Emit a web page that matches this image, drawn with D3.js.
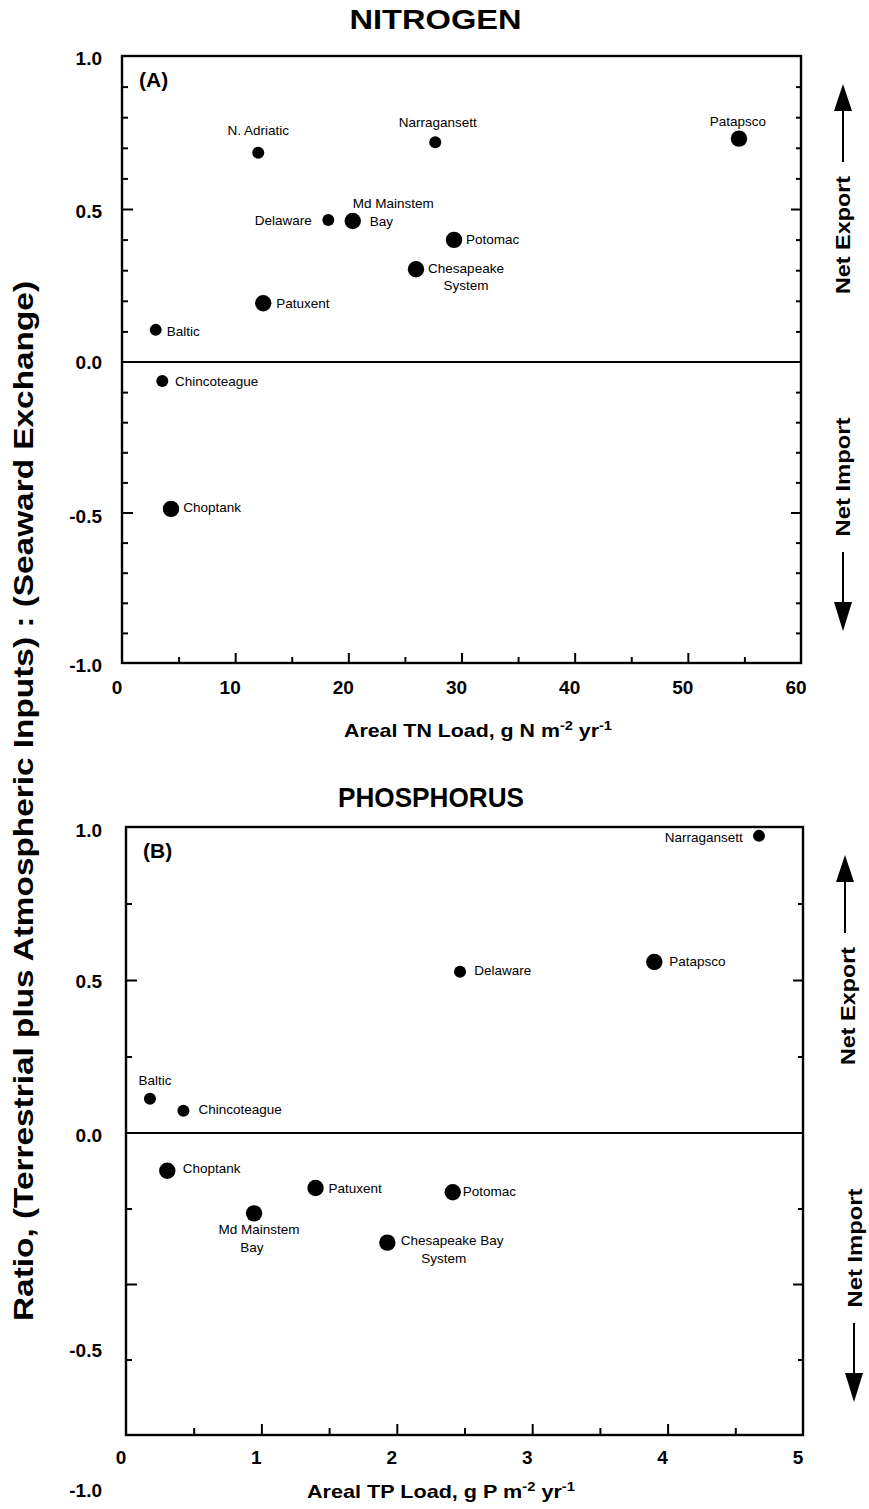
<!DOCTYPE html>
<html>
<head>
<meta charset="utf-8">
<script src="https://cdn.jsdelivr.net/npm/d3@7"></script>
<style>
  html, body { margin: 0; padding: 0; background: #fff; }
  svg { display: block; }
  text { font-family: "Liberation Sans", Arial, Helvetica, sans-serif; fill: #000; }
</style>
</head>
<body>
<svg id="chart" width="869" height="1509"></svg>
<script>
// ---------------- DATA ----------------
// Panel A: Nitrogen
const nSites = ["N. Adriatic", "Delaware", "Md Mainstem Bay", "Patuxent", "Baltic",
                "Narragansett", "Patapsco", "Potomac", "Chesapeake System",
                "Chincoteague", "Choptank"];
const nLoad  = [12.04, 18.23, 20.39, 12.48, 2.98, 27.68, 54.52, 29.34, 25.98, 3.56, 4.33];
const nRatio = [0.684, 0.464, 0.461, 0.192, 0.105, 0.718, 0.730, 0.399, 0.303, -0.063, -0.488];

// Panel B: Phosphorus
const pSites = ["Baltic", "Chincoteague", "Narragansett", "Delaware", "Patapsco",
                "Choptank", "Patuxent", "Md Mainstem Bay", "Potomac", "Chesapeake Bay System"];
const pLoad  = [0.177, 0.424, 4.675, 2.467, 3.902, 0.305, 1.40, 0.946, 2.413, 1.93];
const pRatio = [0.112, 0.073, 0.971, 0.527, 0.559, -0.125, -0.182, -0.266, -0.196, -0.363];

// Chesapeake Bay systems (drawn with the larger symbol)
const chesapeakeGroup = ["Md Mainstem Bay", "Patuxent", "Patapsco", "Potomac",
                         "Chesapeake System", "Chesapeake Bay System", "Choptank"];

// Tick values / labels
const xTicksA = [0, 10, 20, 30, 40, 50, 60];
const xMinorA = [5, 15, 25, 35, 45, 55];
const yMajorA = [-0.5, 0.5];
const yMinorA = [-0.9, -0.8, -0.7, -0.6, -0.4, -0.3, -0.2, -0.1, 0.1, 0.2, 0.3, 0.4, 0.6, 0.7, 0.8, 0.9];
const yLabelsA = ["1.0", "0.5", "0.0", "-0.5", "-1.0"];

const xTicksB = [0, 1, 2, 3, 4, 5];
const xMinorB = [0.5, 1.5, 2.5, 3.5, 4.5];
const yMajorB = [-0.5, 0.5];
const yMinorB = [-0.75, -0.25, 0.25, 0.75];
const yLabelsB = ["1.0", "0.5", "0.0", "-0.5", "-1.0"];

// ---------------- LAYOUT (label placement, not data) ----------------
const labelLayoutA = {
  "N. Adriatic":       [{t: "N. Adriatic", a: "middle", dx: 0, dy: -17.5}],
  "Delaware":          [{t: "Delaware", a: "end", dx: -16.5, dy: 5}],
  "Md Mainstem Bay":   [{t: "Md Mainstem", a: "start", dx: 0, dy: -13}, {t: "Bay", a: "start", dx: 17, dy: 5.5}],
  "Patuxent":          [{t: "Patuxent", a: "start", dx: 13, dy: 4.7}],
  "Baltic":            [{t: "Baltic", a: "start", dx: 11, dy: 6}],
  "Narragansett":      [{t: "Narragansett", a: "middle", dx: 2.5, dy: -15.3}],
  "Patapsco":          [{t: "Patapsco", a: "middle", dx: -1, dy: -13}],
  "Potomac":           [{t: "Potomac", a: "start", dx: 12, dy: 4}],
  "Chesapeake System": [{t: "Chesapeake", a: "middle", dx: 50, dy: 3.7}, {t: "System", a: "middle", dx: 50, dy: 20.7}],
  "Chincoteague":      [{t: "Chincoteague", a: "start", dx: 12.7, dy: 5}],
  "Choptank":          [{t: "Choptank", a: "start", dx: 12.3, dy: 2.7}]
};
const labelLayoutB = {
  "Baltic":                [{t: "Baltic", a: "middle", dx: 5, dy: -13.7}],
  "Chincoteague":          [{t: "Chincoteague", a: "start", dx: 15, dy: 3.3}],
  "Narragansett":          [{t: "Narragansett", a: "end", dx: -16.3, dy: 5.7}],
  "Delaware":              [{t: "Delaware", a: "start", dx: 14.3, dy: 3.7}],
  "Patapsco":              [{t: "Patapsco", a: "start", dx: 15, dy: 4}],
  "Choptank":              [{t: "Choptank", a: "start", dx: 15.4, dy: 2.6}],
  "Patuxent":              [{t: "Patuxent", a: "start", dx: 13, dy: 4.7}],
  "Md Mainstem Bay":       [{t: "Md Mainstem", a: "middle", dx: 5, dy: 20.7}, {t: "Bay", a: "middle", dx: -2.3, dy: 38.4}],
  "Potomac":               [{t: "Potomac", a: "start", dx: 10, dy: 3.7}],
  "Chesapeake Bay System": [{t: "Chesapeake Bay", a: "start", dx: 13.4, dy: 2.3}, {t: "System", a: "middle", dx: 56.4, dy: 20}]
};

const svg = d3.select("#chart");
const sizeScale = d3.scaleOrdinal().domain(["chesapeake", "other"]).range([8.2, 6]);
const group = name => chesapeakeGroup.includes(name) ? "chesapeake" : "other";

function drawPanel(cfg) {
  const g = svg.append("g");
  const {x, y} = cfg;
  const [x0, x1] = x.range();
  const yTop = y(1), yBot = y(-1);

  // ticks (inward)
  const tickStyle = sel => {
    sel.select(".domain").remove();
    sel.selectAll(".tick text").remove();
    sel.selectAll(".tick line").attr("stroke", "#000").attr("stroke-width", 2);
  };
  g.append("g").attr("transform", `translate(${x0},0)`)
    .call(d3.axisLeft(y).tickValues(cfg.yMinor).tickSize(-cfg.yMinorLen)).call(tickStyle);
  g.append("g").attr("transform", `translate(${x0},0)`)
    .call(d3.axisLeft(y).tickValues(cfg.yMajor).tickSize(-cfg.yMajorLen)).call(tickStyle);
  g.append("g").attr("transform", `translate(${x1},0)`)
    .call(d3.axisRight(y).tickValues(cfg.yMinor).tickSize(-cfg.yMinorLen + 1)).call(tickStyle);
  g.append("g").attr("transform", `translate(${x1},0)`)
    .call(d3.axisRight(y).tickValues(cfg.yMajor).tickSize(-cfg.yMajorLen + 1)).call(tickStyle);
  g.append("g").attr("transform", `translate(0,${yBot})`)
    .call(d3.axisBottom(x).tickValues(cfg.xMinor).tickSize(-cfg.xMinorLen)).call(tickStyle);
  g.append("g").attr("transform", `translate(0,${yBot})`)
    .call(d3.axisBottom(x).tickValues(cfg.xTicks.slice(1, -1)).tickSize(-cfg.xMajorLen)).call(tickStyle);

  // frame
  g.append("rect")
    .attr("x", x0).attr("y", yTop)
    .attr("width", x1 - x0).attr("height", yBot - yTop)
    .attr("fill", "none").attr("stroke", "#000").attr("stroke-width", 2.4);
  // zero line
  g.append("line")
    .attr("x1", x0).attr("x2", x1).attr("y1", y(0)).attr("y2", y(0))
    .attr("stroke", "#000").attr("stroke-width", 2.2);

  // x tick labels
  g.selectAll(".xl").data(cfg.xTicks).join("text")
    .attr("x", d => x(d) - 5).attr("y", cfg.xLabelY)
    .attr("text-anchor", "middle").attr("dominant-baseline", "central")
    .attr("font-size", 19).attr("font-weight", "bold")
    .text(d => d);
  // y tick labels
  g.selectAll(".yl").data(cfg.yLabels).join("text")
    .attr("x", 102).attr("y", d => cfg.yLabelScale(+d))
    .attr("text-anchor", "end").attr("dominant-baseline", "central")
    .attr("font-size", 19).attr("font-weight", "bold")
    .text(d => d);

  // panel letter
  g.append("text").attr("x", x0 + 17).attr("y", yTop + 31)
    .attr("font-size", 21).attr("font-weight", "bold").text(cfg.letter);

  // title
  g.append("text").attr("x", cfg.titleX).attr("y", cfg.titleY)
    .attr("text-anchor", "middle").attr("font-size", 28).attr("font-weight", "bold")
    .attr("textLength", cfg.titleLen).attr("lengthAdjust", "spacingAndGlyphs")
    .text(cfg.title);

  // x axis title with superscripts
  const xt = g.append("text").attr("x", cfg.xTitleX).attr("y", cfg.xTitleY)
    .attr("text-anchor", "middle").attr("font-size", 19).attr("font-weight", "bold")
    .attr("textLength", 268).attr("lengthAdjust", "spacingAndGlyphs");
  cfg.xTitleParts.forEach(p => {
    const ts = xt.append("tspan").text(p.t);
    if (p.sup) ts.attr("font-size", 13).attr("dy", -7);
    else if (p.after) ts.attr("dy", 7);
  });

  // points
  const pts = cfg.sites.map((s, i) => ({name: s, x: cfg.load[i], y: cfg.ratio[i]}));
  g.selectAll("circle.pt").data(pts).join("circle")
    .attr("class", "pt")
    .attr("cx", d => x(d.x)).attr("cy", d => y(d.y))
    .attr("r", d => sizeScale(group(d.name)))
    .attr("fill", "#000");

  // point labels
  pts.forEach(d => {
    (cfg.layout[d.name] || []).forEach(l => {
      g.append("text")
        .attr("x", x(d.x) + l.dx).attr("y", y(d.y) + l.dy)
        .attr("text-anchor", l.a).attr("font-size", 13.5)
        .text(l.t);
    });
  });

  // Net Export / Net Import arrows
  const ar = cfg.arrows;
  const arrow = (ax, tipY, baseY, shaftEndY) => {
    g.append("line").attr("x1", ax).attr("x2", ax).attr("y1", baseY).attr("y2", shaftEndY)
      .attr("stroke", "#000").attr("stroke-width", 2);
    g.append("path")
      .attr("d", `M${ax},${tipY} L${ax - 9},${baseY} L${ax + 9},${baseY} Z`)
      .attr("fill", "#000");
  };
  arrow(ar.upX, ar.upTip, ar.upTip + 27, ar.upTip + 78);
  arrow(ar.downX, ar.downTip, ar.downTip - 29, ar.downTip - 79);
  g.append("text")
    .attr("transform", `translate(${ar.expX},${ar.expY}) rotate(-90)`)
    .attr("text-anchor", "middle").attr("dominant-baseline", "central")
    .attr("font-size", 20).attr("font-weight", "bold")
    .attr("textLength", 118).attr("lengthAdjust", "spacingAndGlyphs")
    .text("Net Export");
  g.append("text")
    .attr("transform", `translate(${ar.impX},${ar.impY}) rotate(-90)`)
    .attr("text-anchor", "middle").attr("dominant-baseline", "central")
    .attr("font-size", 20).attr("font-weight", "bold")
    .attr("textLength", 119).attr("lengthAdjust", "spacingAndGlyphs")
    .text("Net Import");
}

// Panel A
const xA = d3.scaleLinear().domain([0, 60]).range([122, 801]);
const yA = d3.scaleLinear().domain([-1, 0, 1]).range([663, 362, 56]);
drawPanel({
  x: xA, y: yA,
  sites: nSites, load: nLoad, ratio: nRatio, layout: labelLayoutA,
  xTicks: xTicksA, xMinor: xMinorA, yMajor: yMajorA, yMinor: yMinorA,
  yLabels: yLabelsA,
  yLabelScale: d3.scaleLinear().domain([-1, -0.5, 0, 0.5, 1]).range([665, 516, 362, 211, 58]),
  xMajorLen: 10, xMinorLen: 6, yMajorLen: 11, yMinorLen: 6,
  xLabelY: 687, letter: "(A)",
  title: "NITROGEN", titleX: 435.5, titleY: 29, titleLen: 172,
  xTitleX: 478, xTitleY: 737,
  xTitleParts: [{t: "Areal TN Load, g N m"}, {t: "-2", sup: true}, {t: " yr", after: true}, {t: "-1", sup: true}],
  arrows: {upX: 843, upTip: 84, downX: 843, downTip: 631, expX: 843, expY: 235, impX: 843, impY: 477}
});

// Panel B
const xB = d3.scaleLinear().domain([0, 5]).range([126, 803]);
const yB = d3.scaleLinear().domain([-1, 0, 1]).range([1435, 1133, 827]);
drawPanel({
  x: xB, y: yB,
  sites: pSites, load: pLoad, ratio: pRatio, layout: labelLayoutB,
  xTicks: xTicksB, xMinor: xMinorB, yMajor: yMajorB, yMinor: yMinorB,
  yLabels: yLabelsB,
  yLabelScale: d3.scaleLinear().domain([-1, -0.5, 0, 0.5, 1]).range([1490, 1350, 1135, 981.5, 830]),
  xMajorLen: 11, xMinorLen: 7, yMajorLen: 11, yMinorLen: 6,
  xLabelY: 1457, letter: "(B)",
  title: "PHOSPHORUS", titleX: 431, titleY: 807, titleLen: 186,
  xTitleX: 441, xTitleY: 1498,
  xTitleParts: [{t: "Areal TP Load, g P m"}, {t: "-2", sup: true}, {t: " yr", after: true}, {t: "-1", sup: true}],
  arrows: {upX: 845, upTip: 855, downX: 854, downTip: 1402, expX: 848, expY: 1006, impX: 855, impY: 1248}
});

// Shared y axis title
svg.append("text")
  .attr("transform", "translate(24,801) rotate(-90)")
  .attr("text-anchor", "middle").attr("dominant-baseline", "central")
  .attr("font-size", 27).attr("font-weight", "bold")
  .attr("textLength", 1040).attr("lengthAdjust", "spacingAndGlyphs")
  .text("Ratio, (Terrestrial plus Atmospheric Inputs) : (Seaward Exchange)");
</script>
</body>
</html>
